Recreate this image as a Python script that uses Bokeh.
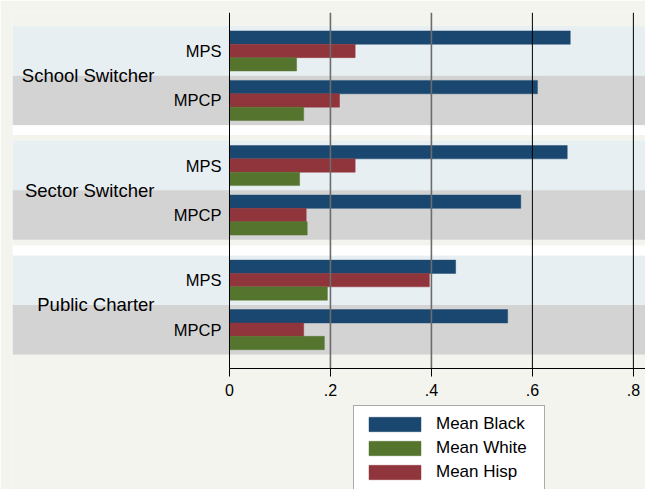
from bokeh.plotting import figure
from bokeh.models import (ColumnDataSource, Legend, LegendItem, FixedTicker,
                          Range1d, LinearAxis)
from bokeh.embed import file_html
from bokeh.resources import INLINE

# ---- data ----
groups = ["School Switcher", "Sector Switcher", "Public Charter"]
sectors = ["MPS", "MPCP"]
mean_black = [0.675, 0.610, 0.669, 0.577, 0.448, 0.551]
mean_hisp = [0.249, 0.218, 0.249, 0.152, 0.396, 0.147]
mean_white = [0.133, 0.147, 0.139, 0.154, 0.194, 0.188]
x_ticks = [0, 0.2, 0.4, 0.6, 0.8]
x_tick_labels = ["0", ".2", ".4", ".6", ".8"]

# ---- styles ----
BG = "#f3f4ee"
LIGHT = "#e8eff2"
GRAY = "#d3d3d3"
BLUE = "#1a476f"
RED = "#90353b"
GREEN = "#55752f"
FONT = "Liberation Sans"

# ---- category layout (one band = 1 unit, groups separated by a gap) ----
GAP = 0.315
def band_center(gi, si):
    return round(-(gi * (2 + GAP) + si + 0.5), 6)

def group_center(gi):
    return round(-(gi * (2 + GAP) + 1.0), 6)

rows = [(gi, si) for gi in range(len(groups)) for si in range(len(sectors))]
ypos = [band_center(gi, si) for gi, si in rows]
band_colors = [LIGHT if si == 0 else GRAY for gi, si in rows]

y_top = 0.277
y_bottom_band = -(len(groups) * 2 + (len(groups) - 1) * GAP)
y_axis_pos = y_bottom_band - 0.283
y_start = y_top - 477 / 49.5
x_start, x_end = -0.4297, 0.824

p = figure(width=645, height=489, x_range=Range1d(x_start, x_end),
           y_range=Range1d(y_start, y_top),
           output_backend="svg", toolbar_location=None,
           min_border_left=12, min_border_right=0, min_border_top=12,
           min_border_bottom=0)
p.background_fill_color = BG
p.border_fill_color = BG
p.outline_line_color = None
p.grid.visible = False

# background bands
band_src = ColumnDataSource(dict(y=ypos, color=band_colors))
p.hbar(y="y", left=x_start, right=x_end, height=1, fill_color="color",
       line_color=None, source=band_src)
strip_src = ColumnDataSource(dict(y=[band_center(0, 1) - 0.6, band_center(2, 0) + 0.6]))
p.hbar(y="y", left=x_start, right=x_end, height=0.2, fill_color="white",
       line_color=None, source=strip_src)

# bars
bh = 0.27
src = ColumnDataSource(dict(
    yb=[y + bh for y in ypos], yh=ypos, yw=[y - bh for y in ypos],
    black=mean_black, hisp=mean_hisp, white=mean_white))
rb = p.hbar(y="yb", left=0, right="black", height=bh,
            fill_color=BLUE, line_color=BLUE, line_alpha=0.45, source=src)
rh = p.hbar(y="yh", left=0, right="hisp", height=bh,
            fill_color=RED, line_color=RED, line_alpha=0.45, source=src)
rw = p.hbar(y="yw", left=0, right="white", height=bh,
            fill_color=GREEN, line_color=GREEN, line_alpha=0.45, source=src)

# vertical grid lines over the bars, from the x axis to the top
grid_x = x_ticks[1:]
grid_col = ["#6c6c6c", "#6c6c6c", "black", "black"]
grid_w = [1.6, 1.6, 1, 1]
gsrc = ColumnDataSource(dict(x=grid_x, c=grid_col, w=grid_w))
p.segment(x0="x", x1="x", y0=y_axis_pos, y1=y_top, line_color="c",
          line_width="w", source=gsrc)

# x axis
xa = p.xaxis[0]
xa.fixed_location = y_axis_pos
xa.ticker = FixedTicker(ticks=x_ticks)
xa.major_label_overrides = dict(zip(x_ticks, x_tick_labels))
xa.bounds = (0, x_end)
xa.axis_line_color = "black"
xa.major_tick_line_color = "black"
xa.major_tick_out = 8
xa.major_tick_in = 0
xa.minor_tick_line_color = None
xa.major_label_standoff = 8
xa.major_label_text_font = FONT
xa.major_label_text_font_size = "16px"
xa.major_label_text_color = "black"

# y axis with sector labels, fixed at x = 0
ya = p.yaxis[0]
ya.fixed_location = 0
ya.bounds = (y_axis_pos, y_top)
ya.ticker = FixedTicker(ticks=ypos)
ya.major_label_overrides = {y: sectors[si] for y, (gi, si) in zip(ypos, rows)}
ya.axis_line_color = "black"
ya.major_tick_line_color = None
ya.minor_tick_line_color = None
ya.major_tick_in = 0
ya.major_tick_out = 0
ya.major_label_standoff = 8
ya.major_label_text_font = FONT
ya.major_label_text_font_size = "16.5px"
ya.major_label_text_color = "black"

# second y axis with group labels
gpos = [group_center(gi) for gi in range(len(groups))]
ga = LinearAxis(fixed_location=-0.1485, ticker=FixedTicker(ticks=gpos),
                major_label_overrides=dict(zip(gpos, groups)),
                axis_line_color=None, major_tick_line_color=None,
                minor_tick_line_color=None, major_tick_in=0, major_tick_out=0,
                major_label_standoff=0, major_label_text_font=FONT,
                major_label_text_font_size="18.5px", major_label_text_color="black")
p.add_layout(ga, "left")

legend = Legend(items=[LegendItem(label="Mean Black", renderers=[rb]),
                       LegendItem(label="Mean White", renderers=[rw]),
                       LegendItem(label="Mean Hisp", renderers=[rh])],
                location=(341, -2), orientation="vertical",
                glyph_width=65, glyph_height=18, label_height=20, label_width=100,
                label_standoff=9, spacing=4, padding=8, margin=0,
                border_line_color="#555555", border_line_width=1,
                background_fill_color="white", background_fill_alpha=1,
                label_text_font=FONT, label_text_font_size="17px",
                label_text_color="black")
p.add_layout(legend)

open("out.html", "w").write(file_html(p, INLINE))
